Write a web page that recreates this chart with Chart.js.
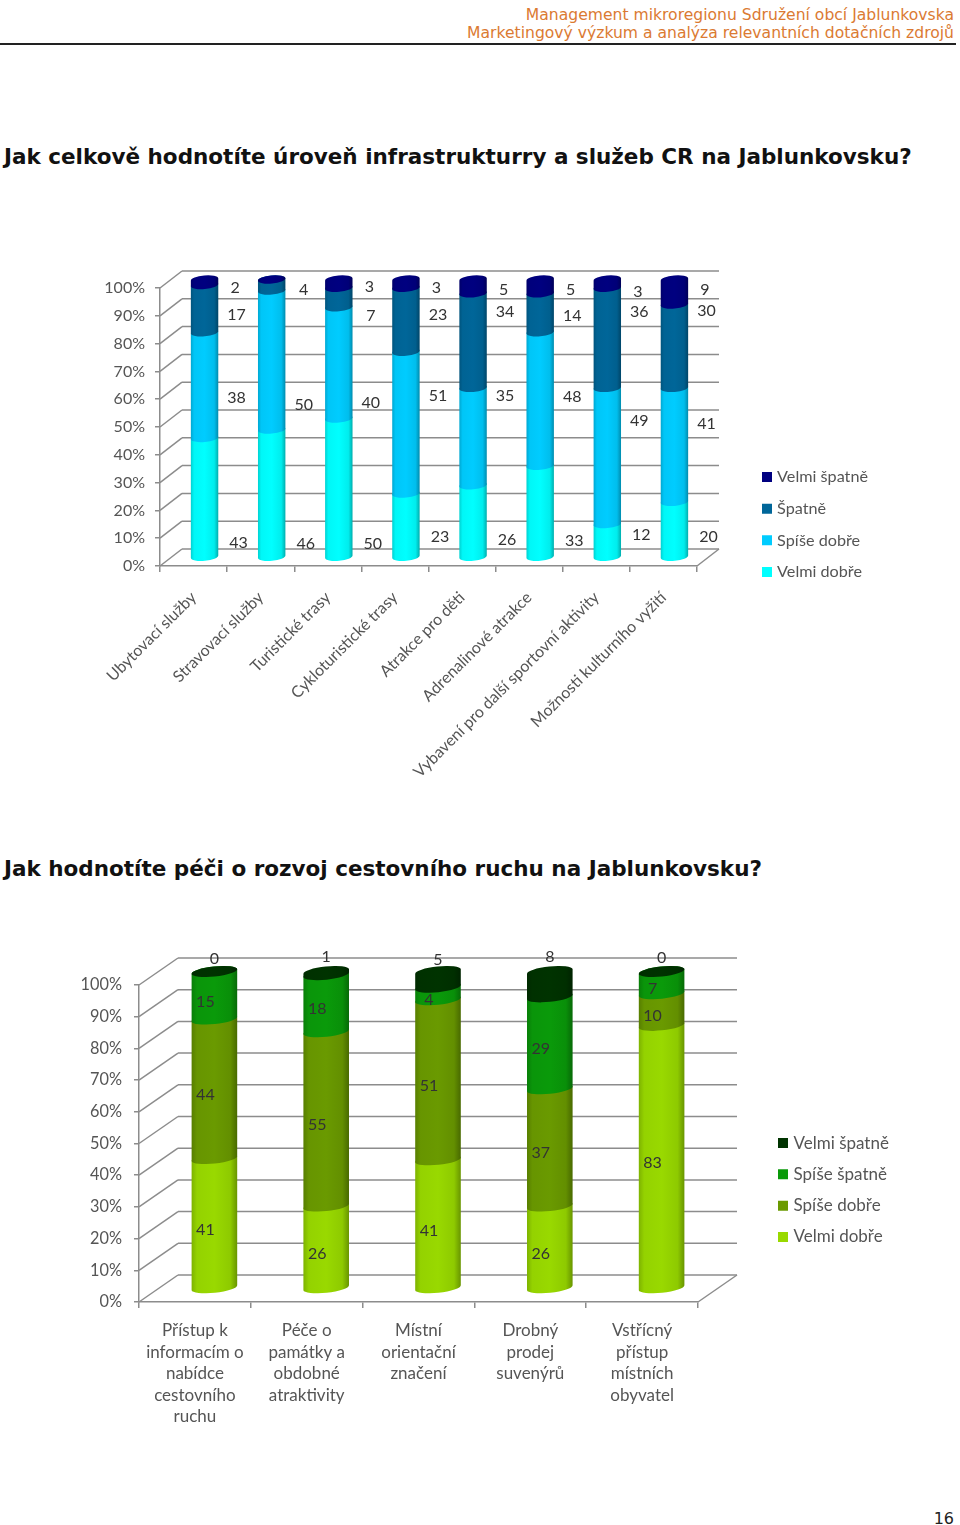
<!DOCTYPE html>
<html lang="cs"><head><meta charset="utf-8">
<script src="https://cdn.jsdelivr.net/npm/chart.js@4/dist/chart.umd.min.js"></script>
<style>
html,body{margin:0;padding:0;background:#fff;width:960px;height:1525px;overflow:hidden}
body{position:relative;font-family:"DejaVu Sans",sans-serif}
.hd{position:absolute;right:6px;color:#DB7A32;font-size:15.6px;line-height:18px;white-space:nowrap}
.rule{position:absolute;left:0;top:43px;width:956px;height:2px;background:#222}
.ttl{position:absolute;left:4px;font-weight:bold;font-size:21.5px;line-height:26px;color:#111;white-space:nowrap}
.pg{position:absolute;right:6px;top:1510px;font-size:16px;line-height:18px;color:#222}
canvas{position:absolute;left:0}
</style></head><body>
<div class="hd" style="top:6px">Management mikroregionu Sdružení obcí Jablunkovska</div>
<div class="hd" style="top:24px">Marketingový výzkum a analýza relevantních dotačních zdrojů</div>
<div class="rule"></div>
<div class="ttl" style="top:144px">Jak celkově hodnotíte úroveň infrastrukturry a služeb CR na Jablunkovsku?</div>
<div class="ttl" style="top:856px">Jak hodnotíte péči o rozvoj cestovního ruchu na Jablunkovsku?</div>
<div class="pg">16</div>
<canvas id="c1" width="960" height="540" style="top:250px"></canvas>
<canvas id="c2" width="960" height="500" style="top:930px"></canvas>
<script>
const tickPercents = [0,10,20,30,40,50,60,70,80,90,100];

const categoriesA = ["Ubytovací služby","Stravovací služby","Turistické trasy","Cykloturistické trasy","Atrakce pro děti","Adrenalinové atrakce","Vybavení pro další sportovní aktivity","Možnosti kulturního vyžití"];
const velmiDobreA  = [43,46,50,23,26,33,12,20];
const spiseDobreA  = [38,50,40,51,35,48,49,41];
const spatneA      = [17,4,7,23,34,14,36,30];
const velmiSpatneA = [2,0,3,3,5,5,3,9];
// level on the percent axis at which each printed value sits
const levelVelmiDobreA  = [8.3,7.9,7.9,10.4,9.4,9,11.2,10.4];
const levelSpiseDobreA  = [60.4,57.9,58.6,61.2,61.2,60.8,52.2,51.1];
const levelSpatneA      = [90.3,99.3,89.9,90.3,91.4,89.9,91.4,91.7];
const levelVelmiSpatneA = [100,null,100.4,100,99.3,99.3,98.6,99.3];

const categoriesB = [["Přístup k","informacím o","nabídce","cestovního","ruchu"],["Péče o","památky a","obdobné","atraktivity"],["Místní","orientační","značení"],["Drobný","prodej","suvenýrů"],["Vstřícný","přístup","místních","obyvatel"]];
const velmiDobreB  = [41,26,41,26,83];
const spiseDobreB  = [44,55,51,37,10];
const spiseSpatneB = [15,18,4,29,7];
const velmiSpatneB = [0,1,5,8,0];
const levelVelmiDobreB  = [22.7,15.1,22.4,15.1,43.8];
const levelSpiseDobreB  = [65.3,55.8,68.1,47,90.2];
const levelSpiseSpatneB = [94.6,92.4,95.3,79.8,98.7];
const levelVelmiSpatneB = [108.2,108.8,107.9,108.8,108.5];

function shade(hex,f){
  const n=parseInt(hex.slice(1),16);
  const c=[n>>16,(n>>8)&255,n&255].map(v=>Math.round(v*f));
  return `rgb(${c[0]},${c[1]},${c[2]})`;
}
function cylinder(ctx,el,color,ry,tilt){
  const w=el.width,rx=w/2,rot=-Math.atan2(tilt,rx);
  const g=ctx.createLinearGradient(el.x-rx,0,el.x+rx,0);
  g.addColorStop(0,shade(color,.82));g.addColorStop(.12,shade(color,.97));
  g.addColorStop(.5,shade(color,1));g.addColorStop(.85,shade(color,.93));g.addColorStop(1,shade(color,.68));
  ctx.fillStyle=g;ctx.beginPath();
  ctx.ellipse(el.x,el.base,rx,ry,rot,0,Math.PI);
  ctx.ellipse(el.x,el.y,rx,ry,rot,Math.PI,2*Math.PI);
  ctx.closePath();ctx.fill();
}
const box3d={
  id:'box3d',
  beforeDatasetsDraw(chart,args,o){
    const {ctx,chartArea:a,scales:{y}}=chart;
    ctx.save();ctx.strokeStyle='#8c8c8c';ctx.lineWidth=1.5;
    const seg=(x1,y1,x2,y2)=>{ctx.beginPath();ctx.moveTo(x1,y1);ctx.lineTo(x2,y2);ctx.stroke();};
    tickPercents.forEach(v=>{
      const p=y.getPixelForValue(v);
      seg(a.left,p,a.left+o.dx,p-o.dy);
      seg(a.left+o.dx,p-o.dy,a.right+o.dx,p-o.dy);
    });
    const b=y.getPixelForValue(0);
    seg(a.right,b,a.right+o.dx,b-o.dy);
    ctx.restore();
    // bars: lowest series first so that each upper rim overlaps the one below
    ctx.save();ctx.translate(o.dx/2,-o.dy/2);
    chart.data.datasets.forEach((ds,i)=>{
      chart.getDatasetMeta(i).data.forEach(el=>cylinder(ctx,el,ds.backgroundColor,o.ry,o.tilt));
    });
    ctx.restore();
    return false;
  },
  afterDraw(chart,args,o){
    const {ctx,scales:{x,y}}=chart;
    ctx.save();ctx.font=o.font;ctx.fillStyle=o.labelColor;ctx.textAlign='center';ctx.textBaseline='middle';
    chart.data.datasets.forEach(ds=>{
      ds.rawValues.forEach((v,j)=>{
        const lv=ds.labelLevels[j];
        if(lv===null)return;
        ctx.fillText(String(v),x.getPixelForValue(j)+o.dx/2+ds.labelShift,y.getPixelForValue(lv));
      });
    });
    ctx.restore();
  },
  afterLayout(chart,args,o){
    const l=chart.legend,h=l.bottom-l.top,w=l.right-l.left;
    l.left=o.legendX;l.right=o.legendX+w;l.top=o.legendY;l.bottom=o.legendY+h;
  }
};
function legendItems(chart){
  const items=Chart.defaults.plugins.legend.labels.generateLabels(chart);
  items.forEach(i=>{i.strokeStyle=i.fillStyle;i.lineWidth=6;});
  return items;
}
function makeChart(id,cfg){
  const totals=cfg.labels.map((_,j)=>cfg.series.reduce((t,s)=>t+s.data[j],0));
  new Chart(document.getElementById(id),{
    type:'bar',
    data:{labels:cfg.labels,datasets:cfg.series.map(s=>({label:s.name,data:s.data.map((v,j)=>v/totals[j]*100),rawValues:s.data,backgroundColor:s.color,labelLevels:s.levels,labelShift:s.shift,barPercentage:cfg.barPct,categoryPercentage:1}))},
    plugins:[box3d],
    options:{
      responsive:false,animation:false,devicePixelRatio:1,
      layout:{padding:{left:0,top:cfg.top,right:cfg.right,bottom:0}},
      plugins:{
        tooltip:{enabled:false},
        legend:{position:'chartArea',reverse:true,labels:{boxWidth:4,boxHeight:4,generateLabels:legendItems,padding:cfg.legendGap,color:'#555',font:{family:'Lato',size:cfg.legendFont}}},
        box3d:{dx:cfg.dx,dy:cfg.dy,ry:cfg.ry,tilt:cfg.tilt,font:'16px Lato',labelColor:'#333',legendX:cfg.legendX,legendY:cfg.legendY}
      },
      scales:{
        x:{stacked:true,afterFit:s=>{s.height=cfg.xh;},
           grid:{drawOnChartArea:false,color:'#8c8c8c',lineWidth:1.5,tickLength:6,tickColor:'#8c8c8c'},
           border:{color:'#8c8c8c',width:1.5},
           ticks:{color:'#555',font:{family:'Lato',size:cfg.xFont,lineHeight:cfg.lineH},autoSkip:false,minRotation:cfg.rot,maxRotation:cfg.rot,padding:cfg.xpad}},
        y:{stacked:true,min:0,max:100,afterFit:s=>{s.width=cfg.yw;},afterBuildTicks:s=>{s.ticks=tickPercents.map(v=>({value:v}));},
           grid:{drawOnChartArea:false,color:'#8c8c8c',lineWidth:1.5,tickLength:5,tickColor:'#8c8c8c'},
           border:{color:'#8c8c8c',width:1.5},
           ticks:{color:'#555',font:{family:'Lato',size:cfg.yFont},padding:cfg.ypad,callback:v=>v+'%'}}
      }
    }
  });
}
makeChart('c1',{labels:categoriesA,top:38,right:263,yw:160,xh:224,dx:22,dy:17,ry:4,tilt:1.2,barPct:.41,rot:45,xpad:16,xFont:16,yFont:16,ypad:10,lineH:1.2,legendFont:16.2,legendGap:15.5,legendX:749.5,legendY:135.5,
  series:[
   {name:'Velmi dobře',data:velmiDobreA,color:'#00FFFF',levels:levelVelmiDobreA,shift:34},
   {name:'Spíše dobře',data:spiseDobreA,color:'#00CCFF',levels:levelSpiseDobreA,shift:32},
   {name:'Špatně',data:spatneA,color:'#006699',levels:levelSpatneA,shift:32},
   {name:'Velmi špatně',data:velmiSpatneA,color:'#000080',levels:levelVelmiSpatneA,shift:30.5}
  ]});
makeChart('c2',{labels:categoriesB,top:55,right:262,yw:139,xh:128,dx:39,dy:27,ry:5,tilt:2.4,barPct:.41,rot:0,xpad:12,xFont:17,yFont:16.3,ypad:12,lineH:1.265,legendFont:17,legendGap:14.3,legendX:766.7,legendY:101.5,
  series:[
   {name:'Velmi dobře',data:velmiDobreB,color:'#99D900',levels:levelVelmiDobreB,shift:-9},
   {name:'Spíše dobře',data:spiseDobreB,color:'#6A9A00',levels:levelSpiseDobreB,shift:-9},
   {name:'Spíše špatně',data:spiseSpatneB,color:'#0A9A0A',levels:levelSpiseSpatneB,shift:-9},
   {name:'Velmi špatně',data:velmiSpatneB,color:'#003300',levels:levelVelmiSpatneB,shift:0}
  ]});
</script>
</body></html>
